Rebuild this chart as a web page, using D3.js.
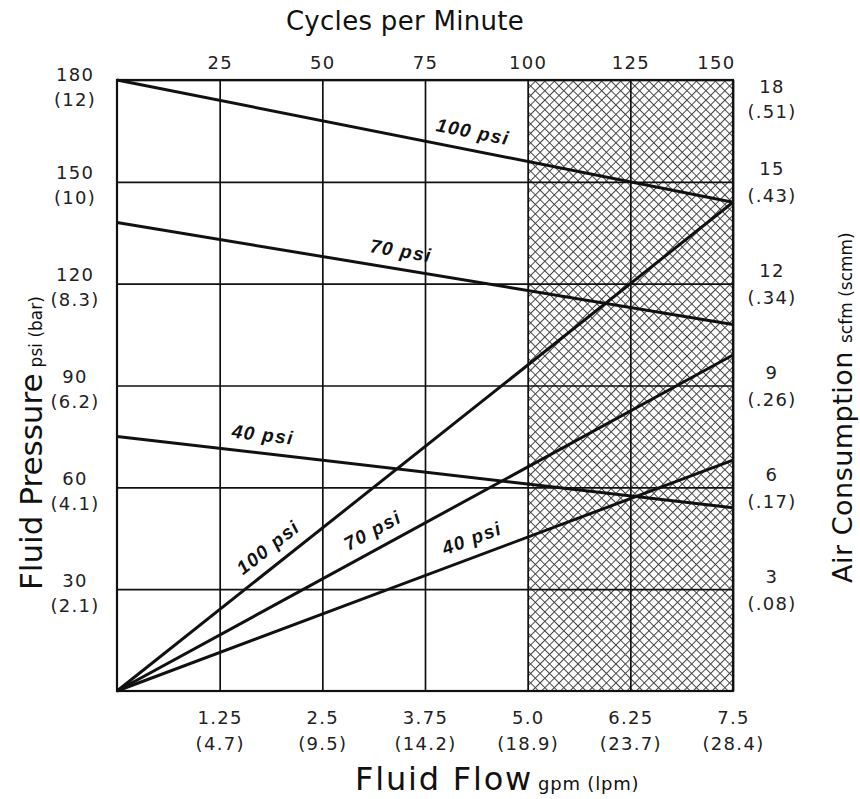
<!DOCTYPE html>
<html><head><meta charset="utf-8">
<script src="https://cdn.jsdelivr.net/npm/d3@7/dist/d3.min.js"></script>
<style>body{margin:0;background:#fff}</style>
</head><body><svg id="c" width="860" height="799"></svg>
<script>
// ---- data ----
const flowTicks=[1.25,2.5,3.75,5.0,6.25,7.5];
const flowLabels=["1.25","2.5","3.75","5.0","6.25","7.5"];
const flowLpm=["(4.7)","(9.5)","(14.2)","(18.9)","(23.7)","(28.4)"];
const cycleTicks=[25,50,75,100,125,150];
const pressureTicks=[30,60,90,120,150,180];
const pressureBar=["(2.1)","(4.1)","(6.2)","(8.3)","(10)","(12)"];
const airTicks=[3,6,9,12,15,18];
const airScmm=["(.08)","(.17)","(.26)","(.34)","(.43)","(.51)"];
const series=["100 psi","70 psi","40 psi"];
const flowEnds=[0,7.5];
const pressureAtStart=[180,138,75];
const pressureAtEnd=[144,108,54];
const airAtStart=[0,0,0];
const airAtEnd=[14.4,9.9,6.8];
const hatchRange=[5.0,7.5];
const pressureLabelFlow=[4.29,3.42,1.75];
const airLabelFlow=[1.98,3.22,4.40];

// ---- layout ----
const W=860,H=799, L=117,R=733,T=80,B=691;
const svg=d3.select("#c");
svg.append("rect").attr("width",W).attr("height",H).attr("fill","#fff");
const x=d3.scaleLinear().domain([0,7.5]).range([L,R]);
const xc=d3.scaleLinear().domain([0,150]).range([L,R]);
const yP=d3.scaleLinear().domain([0,180]).range([B,T]);
const yA=d3.scaleLinear().domain([0,18]).range([B,T]);
const numFont="'DejaVu Sans', sans-serif";

// hatch pattern
const defs=svg.append("defs");
const pat=defs.append("pattern").attr("id","hatch").attr("patternUnits","userSpaceOnUse")
  .attr("width",6.7).attr("height",6.7).attr("patternTransform","rotate(45)");
pat.append("path").attr("d","M0,0.5H6.7M0.5,0V6.7").attr("stroke","#444").attr("stroke-width",1).attr("fill","none");
svg.append("rect").attr("x",x(hatchRange[0])).attr("y",T)
  .attr("width",x(hatchRange[1])-x(hatchRange[0])).attr("height",B-T).attr("fill","url(#hatch)");

// grid via axes
const gx=svg.append("g").attr("transform",`translate(0,${B})`)
  .call(d3.axisBottom(x).tickValues(flowTicks).tickSize(-(B-T)).tickFormat(""));
const gy=svg.append("g").attr("transform",`translate(${L},0)`)
  .call(d3.axisLeft(yP).tickValues(pressureTicks).tickSize(-(R-L)).tickFormat(""));
[gx,gy].forEach(g=>{g.select(".domain").remove();g.selectAll("line").attr("stroke","#111").attr("stroke-width",1.7);});
svg.append("rect").attr("x",L).attr("y",T).attr("width",R-L).attr("height",B-T)
  .attr("fill","none").attr("stroke","#111").attr("stroke-width",2.2);

function twoLine(g, first, second, xOff, y1, y2, anchor){
  g.select(".domain").remove();
  g.selectAll(".tick line").remove();
  g.selectAll(".tick text").each(function(d,i){
    const t=d3.select(this).text(null).attr("dy",null).attr("x",null).attr("y",null)
      .attr("text-anchor",anchor||"middle");
    const a=y1(d,i), b=y2(d,i);
    t.append("tspan").attr("x",xOff(d,i)).attr("y",a).text(first[i]);
    if(second) t.append("tspan").attr("x",xOff(d,i)).attr("y",b).text(second[i]);
  });
  g.attr("font-family",numFont).attr("font-size",18).attr("fill","#222")
   .selectAll("text").attr("fill","#222").style("letter-spacing","1.3px");
}
// left axis
const gl=svg.append("g").attr("transform",`translate(${L},0)`)
  .call(d3.axisLeft(yP).tickValues(pressureTicks).tickSize(0));
twoLine(gl, pressureTicks.map(String), pressureBar, ()=>-42, d=>d===180?0:-3, d=>d===180?25:22);
// right axis
const gr=svg.append("g").attr("transform",`translate(${R},0)`)
  .call(d3.axisRight(yA).tickValues(airTicks).tickSize(0));
twoLine(gr, airTicks.map(String), airScmm, ()=>39, d=>d===18?12:-7, d=>d===18?37:20);
// bottom axis
const gb=svg.append("g").attr("transform",`translate(0,${B})`)
  .call(d3.axisBottom(x).tickValues(flowTicks).tickSize(0));
twoLine(gb, flowLabels, flowLpm, ()=>0, ()=>33, ()=>59);
// top axis
const gt=svg.append("g").attr("transform",`translate(0,${T})`)
  .call(d3.axisTop(xc).tickValues(cycleTicks).tickSize(0));
twoLine(gt, cycleTicks.map(String), null, (d)=>d===150?2:0, ()=>-11, ()=>0);
gt.selectAll(".tick text").attr("text-anchor",d=>d===150?"end":"middle");

// titles
const titleFont="'DejaVu Sans', sans-serif";
svg.append("text").attr("x",405).attr("y",30).attr("text-anchor","middle")
  .attr("font-family",titleFont).attr("font-size",26).style("letter-spacing","0.3px")
  .attr("fill","#111").text("Cycles per Minute");
const bt=svg.append("text").attr("x",355).attr("y",790).attr("font-family",titleFont).attr("fill","#111");
bt.append("tspan").attr("font-size",32).style("letter-spacing","1.8px").text("Fluid Flow");
bt.append("tspan").attr("font-size",18).attr("dx",5).style("letter-spacing","0.8px").text("gpm (lpm)");
const lt=svg.append("text").attr("transform","translate(42,590) rotate(-90)").attr("font-family",titleFont).attr("fill","#111");
lt.append("tspan").attr("font-size",31).text("Fluid Pressure");
lt.append("tspan").attr("font-size",17).attr("dx",6).text("psi (bar)");
const rt=svg.append("text").attr("transform","translate(852,583) rotate(-90)").attr("font-family",titleFont).attr("fill","#111");
rt.append("tspan").attr("font-size",27).style("letter-spacing","0.5px").text("Air Consumption");
rt.append("tspan").attr("font-size",17).attr("dx",8).text("scfm (scmm)");

// data lines
const line=d3.line();
series.forEach((s,i)=>{
  const pp=flowEnds.map((f,k)=>[x(f), yP(k?pressureAtEnd[i]:pressureAtStart[i])]);
  const aa=flowEnds.map((f,k)=>[x(f), yA(k?airAtEnd[i]:airAtStart[i])]);
  svg.append("path").attr("d",line(pp)).attr("stroke","#111").attr("stroke-width",3).attr("fill","none");
  svg.append("path").attr("d",line(aa)).attr("stroke","#111").attr("stroke-width",3).attr("fill","none");
});

// line labels
function lineLabel(f, y0, y1, yScale, text){
  const p0=[x(flowEnds[0]), yScale(y0)], p1=[x(flowEnds[1]), yScale(y1)];
  const px=x(f), py=p0[1]+(p1[1]-p0[1])*(px-p0[0])/(p1[0]-p0[0]);
  const ang=Math.atan2(p1[1]-p0[1], p1[0]-p0[0])*180/Math.PI;
  svg.append("text").attr("transform",`translate(${px},${py}) rotate(${ang})`)
    .attr("y",-12).attr("text-anchor","middle")
    .attr("font-family","'Liberation Sans', Arial, sans-serif").attr("font-weight","bold")
    .attr("font-style","italic").attr("font-size",19).style("letter-spacing","1.4px")
    .attr("fill","#111").text(text);
}
series.forEach((s,i)=>{
  lineLabel(pressureLabelFlow[i], pressureAtStart[i], pressureAtEnd[i], yP, s);
  lineLabel(airLabelFlow[i], airAtStart[i], airAtEnd[i], yA, s);
});
</script></body></html>
